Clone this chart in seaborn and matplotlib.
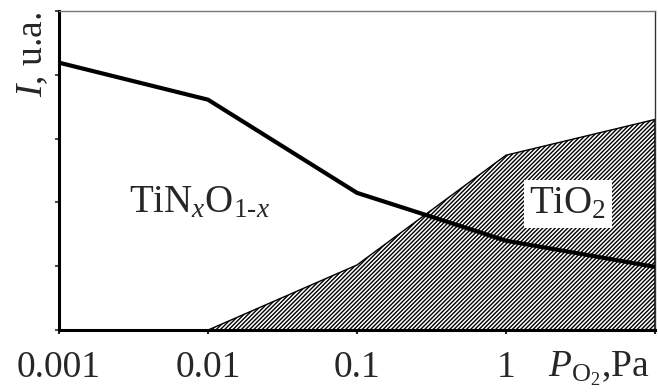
import numpy as np
import pandas as pd
import matplotlib
matplotlib.use("Agg")
import matplotlib.pyplot as plt
import seaborn as sns

# Data
pressure = [0.001, 0.01, 0.1, 1, 10]
tin_intensity = [4.19, 3.61, 2.15, 1.40, 0.99]

tio2_pressure = [0.01, 0.1, 1, 10]
tio2_intensity = [0.0, 1.02, 2.74, 3.30]

xticks = [0.001, 0.01, 0.1, 1, 10]
xtick_labels = ["0.001", "0.01", "0.1", "1", ""]
yticks = [0, 1, 2, 3, 4, 5]

sns.set_style("ticks")
plt.rcParams["font.family"] = ["Liberation Serif", "DejaVu Serif"]
plt.rcParams["mathtext.fontset"] = "custom"
plt.rcParams["mathtext.rm"] = "Liberation Serif"
plt.rcParams["mathtext.it"] = "Liberation Serif:italic"
plt.rcParams["mathtext.bf"] = "Liberation Serif:bold"
plt.rcParams["hatch.linewidth"] = 1.0

fig = plt.figure(figsize=(6.58, 3.92), dpi=100)
ax = fig.add_axes([0.0897, 0.158, 0.9057, 0.814])

df_area = pd.DataFrame({"p": tio2_pressure, "i": tio2_intensity})
ax.fill_between(df_area["p"], 0, df_area["i"], facecolor="white",
                edgecolor="black", hatch="////////", linewidth=1.0, zorder=1)

df_line = pd.DataFrame({"p": pressure, "i": tin_intensity})
sns.lineplot(data=df_line, x="p", y="i", color="black", linewidth=3.0,
             ax=ax, zorder=3)

ax.set_xscale("log")
ax.set_xlim(0.001, 10)
ax.set_ylim(0, 5)
ax.set_xticks(xticks)
ax.set_xticklabels(xtick_labels)
ax.minorticks_off()
ax.set_yticks(yticks)
ax.set_yticklabels([])
ax.tick_params(axis="x", direction="out", length=3, width=1.5, labelsize=27, pad=12)
ax.tick_params(axis="y", direction="out", length=3, width=1.2)
ax.set_xlabel("")
ax.set_ylabel("")

for s in ["left", "bottom"]:
    ax.spines[s].set_linewidth(2.2)
    ax.spines[s].set_color("black")
ax.spines["top"].set_linewidth(1.0)
ax.spines["top"].set_color("#777777")
ax.spines["right"].set_linewidth(1.0)
ax.spines["right"].set_color("#333333")

ax.text(0.0088, 2.0, r"TiN$_{x}$O$_{1\text{-}x}$", fontsize=28,
        ha="center", va="center", zorder=4)
ax.text(2.6, 1.98, r"TiO$_2$", fontsize=28, ha="center", va="center", zorder=4,
        bbox=dict(facecolor="white", edgecolor="none", pad=4))

fig.text(0.833, 0.038, r"$P_{\mathrm{O}_2}$,Pa", fontsize=27, ha="left", va="baseline")
fig.text(0.05, 0.97, r"$I$, u.a.", fontsize=27, rotation=90, ha="center", va="top")

fig.savefig("out.png", dpi=100)
